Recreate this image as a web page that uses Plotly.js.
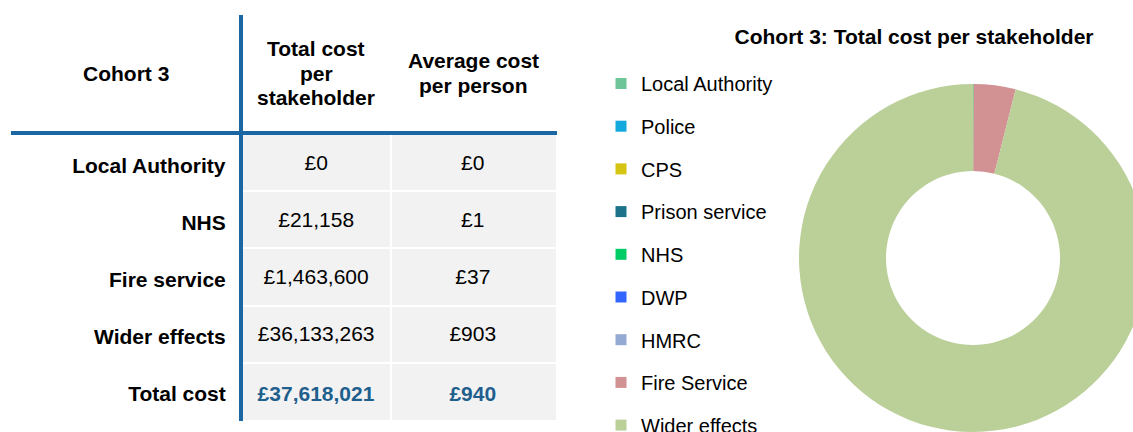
<!DOCTYPE html>
<html>
<head>
<meta charset="utf-8">
<script src="https://cdn.plot.ly/plotly-3.0.1.min.js"></script>
<style>
html, body { margin: 0; padding: 0; overflow: hidden; background: #ffffff; }
#chart { width: 1160px; height: 480px; }
</style>
</head>
<body>
<div id="chart"></div>
<script>
// ---- Table data ----
var headerLabels = ['Cohort 3', 'Total cost<br>per<br>stakeholder', 'Average cost<br>per person'];
var rowLabels = ['Local Authority', 'NHS', 'Fire service', 'Wider effects', 'Total cost'];
var totalCost = [0, 21158, 1463600, 36133263, 37618021];
var avgCost = [0, 1, 37, 903, 940];

// ---- Donut data ----
var chartTitle = 'Cohort 3: Total cost per stakeholder';
var stakeholders = ['Local Authority', 'Police', 'CPS', 'Prison service', 'NHS', 'DWP', 'HMRC', 'Fire Service', 'Wider effects'];
var stakeholderCost = [0, 0, 0, 0, 21158, 0, 0, 1463600, 36133263];
var stakeholderColors = ['#6dc598', '#14a9dc', '#d4c512', '#1b7289', '#00cc66', '#3366ff', '#94aad2', '#d29192', '#bbcf99'];

// the drawing is a little larger than the 1133x432 window; the window crops it like the reference
var W = 1160, H = 480;
function px(x) { return x / W; }
function py(y) { return 1 - y / H; }
var FONT = 'Liberation Sans, Arial, Helvetica, sans-serif';
var BLUE_LINE = '#1a67a3';
var BLUE_TEXT = '#1f5f8e';

function gbp(v) { return '\u00a3' + v.toLocaleString('en-GB'); }

var n = rowLabels.length;
var blank = rowLabels.map(function () { return ''; });
var col0 = rowLabels.map(function (s) { return '<b>' + s + '</b>'; });
var col1 = totalCost.map(function (v, i) { return i === n - 1 ? '<b>' + gbp(v) + '</b>' : gbp(v); });
var col2 = avgCost.map(function (v, i) { return i === n - 1 ? '<b>' + gbp(v) + '</b>' : gbp(v); });
function colColors(labelCol) {
  return rowLabels.map(function (s, i) { return (!labelCol && i === n - 1) ? BLUE_TEXT : '#000000'; });
}

// table grid (cell fills)
var tableGrid = {
  type: 'table',
  domain: { x: [px(11), px(557)], y: [py(421.5), py(15)] },
  columnwidth: [230, 150, 166],
  header: {
    values: ['', '', ''],
    fill: { color: '#ffffff' },
    line: { color: '#ffffff', width: 0 },
    height: 118
  },
  cells: {
    values: [blank, blank, blank],
    fill: { color: ['#ffffff', '#f2f2f2', '#f2f2f2'] },
    line: { color: '#ffffff', width: 2 },
    height: 57.6
  },
  hoverinfo: 'skip'
};

// table text (transparent layer, shifted so text sits in the middle of each row)
var tableText = {
  type: 'table',
  domain: { x: [px(11), px(547.6)], y: [py(431.5), py(15)] },
  columnwidth: [223, 165, 148.6],
  header: {
    values: ['', '', ''],
    fill: { color: 'rgba(0,0,0,0)' },
    line: { color: 'rgba(0,0,0,0)', width: 0 },
    height: 131
  },
  cells: {
    values: [col0, col1, col2],
    align: ['right', 'center', 'center'],
    fill: { color: 'rgba(0,0,0,0)' },
    line: { color: 'rgba(0,0,0,0)', width: 0 },
    font: { family: FONT, size: 21, color: [colColors(true), colColors(false), colColors(false)] },
    height: 57.1
  },
  hoverinfo: 'skip'
};

var pieTrace = {
  type: 'pie',
  labels: stakeholders,
  values: stakeholderCost,
  marker: { colors: stakeholderColors, line: { width: 0 } },
  hole: 0.5,
  sort: false,
  direction: 'clockwise',
  rotation: 0,
  textinfo: 'none',
  hoverinfo: 'label+value+percent',
  showlegend: false,
  domain: { x: [px(799), px(1147)], y: [py(432), py(84)] }
};

// legend entries (one per stakeholder, so spacing between entries can be set)
var legendTraces = stakeholders.map(function (s, i) {
  return {
    type: 'scatter',
    mode: 'markers',
    x: [null], y: [null],
    name: s,
    legendgroup: s,
    showlegend: true,
    hoverinfo: 'skip',
    marker: { symbol: 'square', size: 11, color: stakeholderColors[i], line: { width: 0 } }
  };
});

// column header annotations (vertically centred in the header band)
var headerX = [126, 316, 473];
var headerMidY = 73, headerPitch = 24.5;
var annotations = [];
headerLabels.forEach(function (h, c) {
  var lines = h.split('<br>');
  lines.forEach(function (ln, k) {
    annotations.push({
      xref: 'paper', yref: 'paper',
      x: px(headerX[c]), y: py(headerMidY + (k - (lines.length - 1) / 2) * headerPitch),
      xanchor: 'center', yanchor: 'middle',
      text: '<b>' + ln + '</b>',
      showarrow: false,
      font: { family: FONT, size: 21, color: '#000000' }
    });
  });
});

var layout = {
  width: W, height: H,
  margin: { l: 0, r: 0, t: 0, b: 0, pad: 0 },
  paper_bgcolor: '#ffffff',
  plot_bgcolor: 'rgba(0,0,0,0)',
  font: { family: FONT, color: '#000000' },
  title: {
    text: chartTitle,
    x: px(914), xref: 'paper', xanchor: 'center',
    y: py(37), yref: 'paper', yanchor: 'middle',
    font: { family: FONT, size: 21, color: '#000000', weight: 'bold' }
  },
  xaxis: { visible: false, domain: [0.6, 0.61] },
  yaxis: { visible: false, domain: [0.9, 0.91] },
  showlegend: true,
  legend: {
    x: px(601), xanchor: 'left',
    y: py(64), yanchor: 'top',
    font: { family: FONT, size: 20, color: '#000000' },
    bgcolor: 'rgba(0,0,0,0)',
    borderwidth: 0,
    tracegroupgap: 13.7,
    traceorder: 'grouped',
    itemclick: false, itemdoubleclick: false
  },
  annotations: annotations,
  shapes: [
    { type: 'line', xref: 'paper', yref: 'paper', x0: px(241), x1: px(241), y0: py(15), y1: py(421), line: { color: BLUE_LINE, width: 4 } },
    { type: 'line', xref: 'paper', yref: 'paper', x0: px(11), x1: px(557), y0: py(133), y1: py(133), line: { color: BLUE_LINE, width: 4 } }
  ]
};

Plotly.newPlot('chart', [tableGrid, tableText, pieTrace].concat(legendTraces), layout, { displayModeBar: false });
</script>
</body>
</html>
